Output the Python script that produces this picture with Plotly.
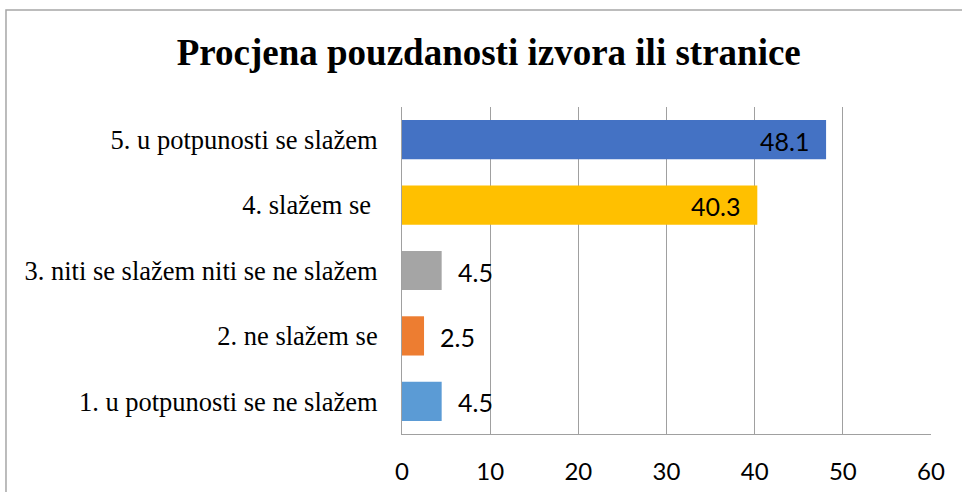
import plotly.graph_objects as go

categories = ['1. u potpunosti se ne slažem', '2. ne slažem se',
              '3. niti se slažem niti se ne slažem', '4. slažem se ',
              '5. u potpunosti se slažem']
values = [4.5, 2.5, 4.5, 40.3, 48.1]
colors = ['#5B9BD5', '#ED7D31', '#A5A5A5', '#FFC000', '#4472C4']
x_ticks = [0, 10, 20, 30, 40, 50, 60]

SERIF = 'Liberation Serif'
SANS = 'Lato'

fig = go.Figure(go.Bar(
    x=values, y=categories, orientation='h',
    marker=dict(color=colors, line=dict(width=0)),
    width=0.6, hoverinfo='x+y',
))

# data labels: inside end for long bars, outside for short ones
for cat, val in zip(categories, values):
    inside = val > 10
    fig.add_annotation(
        x=val, y=cat, text=f'{val:.1f}', showarrow=False,
        xanchor='right' if inside else 'left',
        xshift=-15 if inside else 14, yshift=-1,
        font=dict(family=SANS, size=25, color='#000000'),
    )

fig.update_layout(
    width=962, height=492,
    margin=dict(l=402, r=31, t=107, b=58),
    paper_bgcolor='white', plot_bgcolor='white',
    showlegend=False,
    title=dict(text='<b>Procjena pouzdanosti izvora ili stranice</b>',
               x=0.508, xanchor='center', y=0.895, yanchor='middle',
               font=dict(family=SERIF, size=37, color='#000000')),
    xaxis=dict(range=[0, 60], tickvals=x_ticks, showgrid=True, gridcolor='#A0A0A0', gridwidth=1,
               showline=True, linecolor='#A0A0A0', linewidth=1, zeroline=False, ticks='',
               ticklabelstandoff=16, automargin=False,
               tickfont=dict(family=SANS, size=24, color='#000000')),
    yaxis=dict(showline=True, linecolor='#A0A0A0', linewidth=1, ticks='', showgrid=False,
               ticklabelstandoff=18, automargin=False,
               tickfont=dict(family=SERIF, size=26.5, color='#000000')),
    shapes=[dict(type='rect', xref='paper', yref='paper', x0=-0.7486, x1=1.2, y0=-0.5, y1=1.2966,
                 line=dict(color='#A6A6A6', width=1.5), layer='below')],
)

fig.write_html('out.html', config={'displayModeBar': False},
               post_script="document.body.style.margin='0';")
